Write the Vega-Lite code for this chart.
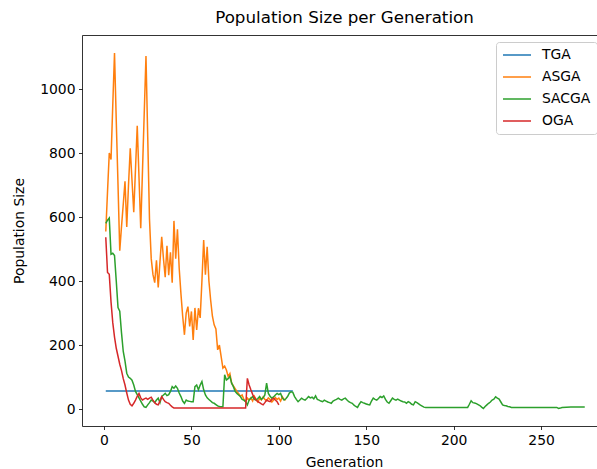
{
  "$schema": "https://vega.github.io/schema/vega-lite/v6.json",
  "width": 515,
  "height": 391,
  "autosize": {"type": "none"},
  "padding": {"left": 82, "top": 35, "right": 0, "bottom": 43},
  "title": {
    "text": "Population Size per Generation",
    "fontSize": 16.7,
    "fontWeight": "normal",
    "color": "#000",
    "anchor": "middle",
    "dx": 5,
    "offset": 8
  },
  "config": {
    "font": "DejaVu Sans",
    "view": {"stroke": null},
    "axis": {
      "domainColor": "#000",
      "domainWidth": 0.8,
      "tickColor": "#000",
      "tickWidth": 0.8,
      "tickSize": 3.5,
      "labelPadding": 3.5,
      "labelFontSize": 13.9,
      "labelColor": "#000",
      "titleFontSize": 13.9,
      "titleFontWeight": "normal",
      "titleColor": "#000",
      "grid": false
    }
  },
  "datasets": {
    "pop": [
      {"generation": 1, "series": "TGA", "size": 56},
      {"generation": 108, "series": "TGA", "size": 56},

      {"generation": 1, "series": "ASGA", "size": 555},
      {"generation": 2, "series": "ASGA", "size": 680},
      {"generation": 3, "series": "ASGA", "size": 800},
      {"generation": 4, "series": "ASGA", "size": 780},
      {"generation": 5, "series": "ASGA", "size": 950},
      {"generation": 6, "series": "ASGA", "size": 1113},
      {"generation": 7, "series": "ASGA", "size": 900},
      {"generation": 8, "series": "ASGA", "size": 700},
      {"generation": 9, "series": "ASGA", "size": 495},
      {"generation": 10, "series": "ASGA", "size": 570},
      {"generation": 11, "series": "ASGA", "size": 640},
      {"generation": 12, "series": "ASGA", "size": 712},
      {"generation": 13, "series": "ASGA", "size": 569},
      {"generation": 14, "series": "ASGA", "size": 700},
      {"generation": 15, "series": "ASGA", "size": 815},
      {"generation": 16, "series": "ASGA", "size": 715},
      {"generation": 17, "series": "ASGA", "size": 615},
      {"generation": 18, "series": "ASGA", "size": 750},
      {"generation": 19, "series": "ASGA", "size": 885},
      {"generation": 20, "series": "ASGA", "size": 725},
      {"generation": 21, "series": "ASGA", "size": 565},
      {"generation": 22, "series": "ASGA", "size": 745},
      {"generation": 23, "series": "ASGA", "size": 925},
      {"generation": 24, "series": "ASGA", "size": 1103},
      {"generation": 25, "series": "ASGA", "size": 850},
      {"generation": 26, "series": "ASGA", "size": 595},
      {"generation": 27, "series": "ASGA", "size": 470},
      {"generation": 28, "series": "ASGA", "size": 420},
      {"generation": 29, "series": "ASGA", "size": 395},
      {"generation": 30, "series": "ASGA", "size": 465},
      {"generation": 31, "series": "ASGA", "size": 380},
      {"generation": 32, "series": "ASGA", "size": 460},
      {"generation": 33, "series": "ASGA", "size": 538},
      {"generation": 34, "series": "ASGA", "size": 470},
      {"generation": 35, "series": "ASGA", "size": 412},
      {"generation": 36, "series": "ASGA", "size": 510},
      {"generation": 37, "series": "ASGA", "size": 418},
      {"generation": 38, "series": "ASGA", "size": 490},
      {"generation": 39, "series": "ASGA", "size": 395},
      {"generation": 40, "series": "ASGA", "size": 588},
      {"generation": 41, "series": "ASGA", "size": 470},
      {"generation": 42, "series": "ASGA", "size": 562},
      {"generation": 43, "series": "ASGA", "size": 440},
      {"generation": 44, "series": "ASGA", "size": 360},
      {"generation": 45, "series": "ASGA", "size": 290},
      {"generation": 46, "series": "ASGA", "size": 232},
      {"generation": 47, "series": "ASGA", "size": 300},
      {"generation": 48, "series": "ASGA", "size": 320},
      {"generation": 49, "series": "ASGA", "size": 258},
      {"generation": 50, "series": "ASGA", "size": 305},
      {"generation": 51, "series": "ASGA", "size": 216},
      {"generation": 52, "series": "ASGA", "size": 316},
      {"generation": 53, "series": "ASGA", "size": 247},
      {"generation": 54, "series": "ASGA", "size": 315},
      {"generation": 55, "series": "ASGA", "size": 285},
      {"generation": 56, "series": "ASGA", "size": 400},
      {"generation": 57, "series": "ASGA", "size": 528},
      {"generation": 58, "series": "ASGA", "size": 420},
      {"generation": 59, "series": "ASGA", "size": 507},
      {"generation": 60, "series": "ASGA", "size": 400},
      {"generation": 61, "series": "ASGA", "size": 340},
      {"generation": 62, "series": "ASGA", "size": 290},
      {"generation": 63, "series": "ASGA", "size": 263},
      {"generation": 64, "series": "ASGA", "size": 250},
      {"generation": 65, "series": "ASGA", "size": 185},
      {"generation": 66, "series": "ASGA", "size": 200},
      {"generation": 67, "series": "ASGA", "size": 164},
      {"generation": 68, "series": "ASGA", "size": 128},
      {"generation": 69, "series": "ASGA", "size": 134},
      {"generation": 70, "series": "ASGA", "size": 122},
      {"generation": 71, "series": "ASGA", "size": 102},
      {"generation": 72, "series": "ASGA", "size": 111},
      {"generation": 73, "series": "ASGA", "size": 81},
      {"generation": 74, "series": "ASGA", "size": 72},
      {"generation": 75, "series": "ASGA", "size": 64},
      {"generation": 76, "series": "ASGA", "size": 55},
      {"generation": 77, "series": "ASGA", "size": 48},
      {"generation": 78, "series": "ASGA", "size": 40},
      {"generation": 79, "series": "ASGA", "size": 44},
      {"generation": 80, "series": "ASGA", "size": 30},
      {"generation": 81, "series": "ASGA", "size": 23},
      {"generation": 82, "series": "ASGA", "size": 34},
      {"generation": 83, "series": "ASGA", "size": 28},
      {"generation": 84, "series": "ASGA", "size": 35},
      {"generation": 85, "series": "ASGA", "size": 25},
      {"generation": 86, "series": "ASGA", "size": 40},
      {"generation": 87, "series": "ASGA", "size": 30},
      {"generation": 88, "series": "ASGA", "size": 22},
      {"generation": 89, "series": "ASGA", "size": 34},
      {"generation": 90, "series": "ASGA", "size": 28},
      {"generation": 91, "series": "ASGA", "size": 38},
      {"generation": 92, "series": "ASGA", "size": 30},
      {"generation": 93, "series": "ASGA", "size": 26},
      {"generation": 94, "series": "ASGA", "size": 35},
      {"generation": 95, "series": "ASGA", "size": 30},
      {"generation": 96, "series": "ASGA", "size": 22},
      {"generation": 97, "series": "ASGA", "size": 28},
      {"generation": 98, "series": "ASGA", "size": 36},
      {"generation": 99, "series": "ASGA", "size": 30},
      {"generation": 100, "series": "ASGA", "size": 34},
      {"generation": 101, "series": "ASGA", "size": 25},
      {"generation": 102, "series": "ASGA", "size": 38},
      {"generation": 103, "series": "ASGA", "size": 30},
      {"generation": 104, "series": "ASGA", "size": 28},

      {"generation": 1, "series": "SACGA", "size": 580},
      {"generation": 2, "series": "SACGA", "size": 590},
      {"generation": 3, "series": "SACGA", "size": 597},
      {"generation": 4, "series": "SACGA", "size": 484},
      {"generation": 5, "series": "SACGA", "size": 487},
      {"generation": 6, "series": "SACGA", "size": 480},
      {"generation": 7, "series": "SACGA", "size": 400},
      {"generation": 8, "series": "SACGA", "size": 317},
      {"generation": 9, "series": "SACGA", "size": 306},
      {"generation": 10, "series": "SACGA", "size": 238},
      {"generation": 11, "series": "SACGA", "size": 180},
      {"generation": 12, "series": "SACGA", "size": 150},
      {"generation": 13, "series": "SACGA", "size": 112},
      {"generation": 14, "series": "SACGA", "size": 100},
      {"generation": 15, "series": "SACGA", "size": 96},
      {"generation": 16, "series": "SACGA", "size": 90},
      {"generation": 17, "series": "SACGA", "size": 75},
      {"generation": 18, "series": "SACGA", "size": 55},
      {"generation": 19, "series": "SACGA", "size": 45},
      {"generation": 20, "series": "SACGA", "size": 35},
      {"generation": 21, "series": "SACGA", "size": 25},
      {"generation": 22, "series": "SACGA", "size": 15},
      {"generation": 23, "series": "SACGA", "size": 7},
      {"generation": 24, "series": "SACGA", "size": 5},
      {"generation": 25, "series": "SACGA", "size": 13},
      {"generation": 26, "series": "SACGA", "size": 20},
      {"generation": 27, "series": "SACGA", "size": 28},
      {"generation": 28, "series": "SACGA", "size": 25},
      {"generation": 29, "series": "SACGA", "size": 20},
      {"generation": 30, "series": "SACGA", "size": 28},
      {"generation": 31, "series": "SACGA", "size": 34},
      {"generation": 32, "series": "SACGA", "size": 20},
      {"generation": 33, "series": "SACGA", "size": 39},
      {"generation": 34, "series": "SACGA", "size": 44},
      {"generation": 35, "series": "SACGA", "size": 49},
      {"generation": 36, "series": "SACGA", "size": 42},
      {"generation": 37, "series": "SACGA", "size": 45},
      {"generation": 38, "series": "SACGA", "size": 55},
      {"generation": 39, "series": "SACGA", "size": 70},
      {"generation": 40, "series": "SACGA", "size": 65},
      {"generation": 41, "series": "SACGA", "size": 72},
      {"generation": 42, "series": "SACGA", "size": 65},
      {"generation": 43, "series": "SACGA", "size": 50},
      {"generation": 44, "series": "SACGA", "size": 39},
      {"generation": 45, "series": "SACGA", "size": 25},
      {"generation": 46, "series": "SACGA", "size": 18},
      {"generation": 47, "series": "SACGA", "size": 28},
      {"generation": 48, "series": "SACGA", "size": 25},
      {"generation": 49, "series": "SACGA", "size": 24},
      {"generation": 50, "series": "SACGA", "size": 23},
      {"generation": 51, "series": "SACGA", "size": 23},
      {"generation": 52, "series": "SACGA", "size": 70},
      {"generation": 53, "series": "SACGA", "size": 75},
      {"generation": 54, "series": "SACGA", "size": 60},
      {"generation": 55, "series": "SACGA", "size": 75},
      {"generation": 56, "series": "SACGA", "size": 86},
      {"generation": 57, "series": "SACGA", "size": 60},
      {"generation": 58, "series": "SACGA", "size": 44},
      {"generation": 59, "series": "SACGA", "size": 35},
      {"generation": 60, "series": "SACGA", "size": 30},
      {"generation": 61, "series": "SACGA", "size": 25},
      {"generation": 62, "series": "SACGA", "size": 20},
      {"generation": 63, "series": "SACGA", "size": 18},
      {"generation": 64, "series": "SACGA", "size": 14},
      {"generation": 65, "series": "SACGA", "size": 10},
      {"generation": 66, "series": "SACGA", "size": 8},
      {"generation": 67, "series": "SACGA", "size": 7},
      {"generation": 68, "series": "SACGA", "size": 7},
      {"generation": 69, "series": "SACGA", "size": 107},
      {"generation": 70, "series": "SACGA", "size": 91},
      {"generation": 71, "series": "SACGA", "size": 95},
      {"generation": 72, "series": "SACGA", "size": 102},
      {"generation": 73, "series": "SACGA", "size": 81},
      {"generation": 74, "series": "SACGA", "size": 70},
      {"generation": 75, "series": "SACGA", "size": 55},
      {"generation": 76, "series": "SACGA", "size": 49},
      {"generation": 77, "series": "SACGA", "size": 44},
      {"generation": 78, "series": "SACGA", "size": 39},
      {"generation": 79, "series": "SACGA", "size": 30},
      {"generation": 80, "series": "SACGA", "size": 28},
      {"generation": 81, "series": "SACGA", "size": 23},
      {"generation": 82, "series": "SACGA", "size": 13},
      {"generation": 83, "series": "SACGA", "size": 28},
      {"generation": 84, "series": "SACGA", "size": 34},
      {"generation": 85, "series": "SACGA", "size": 39},
      {"generation": 86, "series": "SACGA", "size": 30},
      {"generation": 87, "series": "SACGA", "size": 28},
      {"generation": 88, "series": "SACGA", "size": 33},
      {"generation": 89, "series": "SACGA", "size": 39},
      {"generation": 90, "series": "SACGA", "size": 30},
      {"generation": 91, "series": "SACGA", "size": 35},
      {"generation": 92, "series": "SACGA", "size": 44},
      {"generation": 93, "series": "SACGA", "size": 81},
      {"generation": 94, "series": "SACGA", "size": 49},
      {"generation": 95, "series": "SACGA", "size": 40},
      {"generation": 96, "series": "SACGA", "size": 34},
      {"generation": 97, "series": "SACGA", "size": 38},
      {"generation": 98, "series": "SACGA", "size": 44},
      {"generation": 99, "series": "SACGA", "size": 49},
      {"generation": 100, "series": "SACGA", "size": 45},
      {"generation": 101, "series": "SACGA", "size": 49},
      {"generation": 102, "series": "SACGA", "size": 35},
      {"generation": 103, "series": "SACGA", "size": 28},
      {"generation": 104, "series": "SACGA", "size": 32},
      {"generation": 105, "series": "SACGA", "size": 39},
      {"generation": 106, "series": "SACGA", "size": 50},
      {"generation": 107, "series": "SACGA", "size": 54},
      {"generation": 108, "series": "SACGA", "size": 52},
      {"generation": 109, "series": "SACGA", "size": 39},
      {"generation": 110, "series": "SACGA", "size": 30},
      {"generation": 111, "series": "SACGA", "size": 23},
      {"generation": 112, "series": "SACGA", "size": 28},
      {"generation": 113, "series": "SACGA", "size": 34},
      {"generation": 114, "series": "SACGA", "size": 30},
      {"generation": 115, "series": "SACGA", "size": 28},
      {"generation": 116, "series": "SACGA", "size": 33},
      {"generation": 117, "series": "SACGA", "size": 39},
      {"generation": 118, "series": "SACGA", "size": 35},
      {"generation": 119, "series": "SACGA", "size": 37},
      {"generation": 120, "series": "SACGA", "size": 32},
      {"generation": 121, "series": "SACGA", "size": 41},
      {"generation": 122, "series": "SACGA", "size": 30},
      {"generation": 123, "series": "SACGA", "size": 28},
      {"generation": 124, "series": "SACGA", "size": 25},
      {"generation": 125, "series": "SACGA", "size": 23},
      {"generation": 126, "series": "SACGA", "size": 28},
      {"generation": 127, "series": "SACGA", "size": 25},
      {"generation": 128, "series": "SACGA", "size": 22},
      {"generation": 129, "series": "SACGA", "size": 20},
      {"generation": 130, "series": "SACGA", "size": 18},
      {"generation": 131, "series": "SACGA", "size": 25},
      {"generation": 132, "series": "SACGA", "size": 28},
      {"generation": 133, "series": "SACGA", "size": 30},
      {"generation": 134, "series": "SACGA", "size": 34},
      {"generation": 135, "series": "SACGA", "size": 30},
      {"generation": 136, "series": "SACGA", "size": 28},
      {"generation": 137, "series": "SACGA", "size": 32},
      {"generation": 138, "series": "SACGA", "size": 34},
      {"generation": 139, "series": "SACGA", "size": 28},
      {"generation": 140, "series": "SACGA", "size": 23},
      {"generation": 141, "series": "SACGA", "size": 20},
      {"generation": 142, "series": "SACGA", "size": 18},
      {"generation": 143, "series": "SACGA", "size": 12},
      {"generation": 144, "series": "SACGA", "size": 8},
      {"generation": 145, "series": "SACGA", "size": 5},
      {"generation": 146, "series": "SACGA", "size": 15},
      {"generation": 147, "series": "SACGA", "size": 23},
      {"generation": 148, "series": "SACGA", "size": 20},
      {"generation": 149, "series": "SACGA", "size": 18},
      {"generation": 150, "series": "SACGA", "size": 16},
      {"generation": 151, "series": "SACGA", "size": 14},
      {"generation": 152, "series": "SACGA", "size": 13},
      {"generation": 153, "series": "SACGA", "size": 25},
      {"generation": 154, "series": "SACGA", "size": 34},
      {"generation": 155, "series": "SACGA", "size": 30},
      {"generation": 156, "series": "SACGA", "size": 28},
      {"generation": 157, "series": "SACGA", "size": 33},
      {"generation": 158, "series": "SACGA", "size": 39},
      {"generation": 159, "series": "SACGA", "size": 36},
      {"generation": 160, "series": "SACGA", "size": 41},
      {"generation": 161, "series": "SACGA", "size": 30},
      {"generation": 162, "series": "SACGA", "size": 22},
      {"generation": 163, "series": "SACGA", "size": 18},
      {"generation": 164, "series": "SACGA", "size": 26},
      {"generation": 165, "series": "SACGA", "size": 34},
      {"generation": 166, "series": "SACGA", "size": 30},
      {"generation": 167, "series": "SACGA", "size": 28},
      {"generation": 168, "series": "SACGA", "size": 31},
      {"generation": 169, "series": "SACGA", "size": 28},
      {"generation": 170, "series": "SACGA", "size": 25},
      {"generation": 171, "series": "SACGA", "size": 23},
      {"generation": 172, "series": "SACGA", "size": 22},
      {"generation": 173, "series": "SACGA", "size": 18},
      {"generation": 174, "series": "SACGA", "size": 23},
      {"generation": 175, "series": "SACGA", "size": 20},
      {"generation": 176, "series": "SACGA", "size": 15},
      {"generation": 177, "series": "SACGA", "size": 13},
      {"generation": 178, "series": "SACGA", "size": 23},
      {"generation": 179, "series": "SACGA", "size": 20},
      {"generation": 180, "series": "SACGA", "size": 16},
      {"generation": 181, "series": "SACGA", "size": 12},
      {"generation": 182, "series": "SACGA", "size": 9},
      {"generation": 183, "series": "SACGA", "size": 6},
      {"generation": 184, "series": "SACGA", "size": 5},
      {"generation": 208, "series": "SACGA", "size": 5},
      {"generation": 209, "series": "SACGA", "size": 15},
      {"generation": 210, "series": "SACGA", "size": 26},
      {"generation": 211, "series": "SACGA", "size": 20},
      {"generation": 212, "series": "SACGA", "size": 19},
      {"generation": 213, "series": "SACGA", "size": 17},
      {"generation": 214, "series": "SACGA", "size": 14},
      {"generation": 215, "series": "SACGA", "size": 11},
      {"generation": 216, "series": "SACGA", "size": 6},
      {"generation": 217, "series": "SACGA", "size": 2},
      {"generation": 218, "series": "SACGA", "size": 8},
      {"generation": 219, "series": "SACGA", "size": 13},
      {"generation": 220, "series": "SACGA", "size": 18},
      {"generation": 221, "series": "SACGA", "size": 22},
      {"generation": 222, "series": "SACGA", "size": 28},
      {"generation": 223, "series": "SACGA", "size": 31},
      {"generation": 224, "series": "SACGA", "size": 38},
      {"generation": 225, "series": "SACGA", "size": 34},
      {"generation": 226, "series": "SACGA", "size": 31},
      {"generation": 227, "series": "SACGA", "size": 22},
      {"generation": 228, "series": "SACGA", "size": 13},
      {"generation": 229, "series": "SACGA", "size": 11},
      {"generation": 230, "series": "SACGA", "size": 10},
      {"generation": 231, "series": "SACGA", "size": 8},
      {"generation": 232, "series": "SACGA", "size": 7},
      {"generation": 233, "series": "SACGA", "size": 5},
      {"generation": 259, "series": "SACGA", "size": 5},
      {"generation": 260, "series": "SACGA", "size": 2},
      {"generation": 261, "series": "SACGA", "size": 3},
      {"generation": 262, "series": "SACGA", "size": 5},
      {"generation": 267, "series": "SACGA", "size": 6},
      {"generation": 275, "series": "SACGA", "size": 6},

      {"generation": 1, "series": "OGA", "size": 537},
      {"generation": 2, "series": "OGA", "size": 427},
      {"generation": 3, "series": "OGA", "size": 421},
      {"generation": 4, "series": "OGA", "size": 335},
      {"generation": 5, "series": "OGA", "size": 270},
      {"generation": 6, "series": "OGA", "size": 225},
      {"generation": 7, "series": "OGA", "size": 190},
      {"generation": 8, "series": "OGA", "size": 165},
      {"generation": 9, "series": "OGA", "size": 140},
      {"generation": 10, "series": "OGA", "size": 120},
      {"generation": 11, "series": "OGA", "size": 95},
      {"generation": 12, "series": "OGA", "size": 75},
      {"generation": 13, "series": "OGA", "size": 50},
      {"generation": 14, "series": "OGA", "size": 28},
      {"generation": 15, "series": "OGA", "size": 15},
      {"generation": 16, "series": "OGA", "size": 10},
      {"generation": 17, "series": "OGA", "size": 18},
      {"generation": 18, "series": "OGA", "size": 28},
      {"generation": 19, "series": "OGA", "size": 40},
      {"generation": 20, "series": "OGA", "size": 49},
      {"generation": 21, "series": "OGA", "size": 35},
      {"generation": 22, "series": "OGA", "size": 28},
      {"generation": 23, "series": "OGA", "size": 32},
      {"generation": 24, "series": "OGA", "size": 34},
      {"generation": 25, "series": "OGA", "size": 30},
      {"generation": 26, "series": "OGA", "size": 34},
      {"generation": 27, "series": "OGA", "size": 37},
      {"generation": 28, "series": "OGA", "size": 28},
      {"generation": 29, "series": "OGA", "size": 20},
      {"generation": 30, "series": "OGA", "size": 15},
      {"generation": 31, "series": "OGA", "size": 13},
      {"generation": 32, "series": "OGA", "size": 25},
      {"generation": 33, "series": "OGA", "size": 39},
      {"generation": 34, "series": "OGA", "size": 30},
      {"generation": 35, "series": "OGA", "size": 23},
      {"generation": 36, "series": "OGA", "size": 20},
      {"generation": 37, "series": "OGA", "size": 18},
      {"generation": 38, "series": "OGA", "size": 12},
      {"generation": 39, "series": "OGA", "size": 7},
      {"generation": 40, "series": "OGA", "size": 3},
      {"generation": 81, "series": "OGA", "size": 3},
      {"generation": 82, "series": "OGA", "size": 96},
      {"generation": 83, "series": "OGA", "size": 75},
      {"generation": 84, "series": "OGA", "size": 60},
      {"generation": 85, "series": "OGA", "size": 46},
      {"generation": 86, "series": "OGA", "size": 36},
      {"generation": 87, "series": "OGA", "size": 28},
      {"generation": 88, "series": "OGA", "size": 23},
      {"generation": 89, "series": "OGA", "size": 20},
      {"generation": 90, "series": "OGA", "size": 16},
      {"generation": 91, "series": "OGA", "size": 13},
      {"generation": 92, "series": "OGA", "size": 20},
      {"generation": 93, "series": "OGA", "size": 28},
      {"generation": 94, "series": "OGA", "size": 25},
      {"generation": 95, "series": "OGA", "size": 23},
      {"generation": 96, "series": "OGA", "size": 30},
      {"generation": 97, "series": "OGA", "size": 34},
      {"generation": 98, "series": "OGA", "size": 28},
      {"generation": 99, "series": "OGA", "size": 23},
      {"generation": 100, "series": "OGA", "size": 13}
    ]
  },
  "data": {"name": "pop"},
  "encoding": {
    "y": {
      "field": "size",
      "type": "quantitative",
      "scale": {"domain": [-53, 1169], "nice": false, "zero": false},
      "axis": {
        "values": [0, 200, 400, 600, 800, 1000],
        "format": "d",
        "title": "Population Size",
        "titlePadding": 13
      }
    },
    "color": {
      "field": "series",
      "type": "nominal",
      "scale": {
        "domain": ["TGA", "ASGA", "SACGA", "OGA"],
        "range": ["#1f77b4", "#ff7f0e", "#2ca02c", "#d62728"]
      },
      "legend": {
        "title": null,
        "orient": "none",
        "legendX": 414,
        "legendY": 7,
        "symbolType": "stroke",
        "symbolSize": 784,
        "symbolStrokeWidth": 1.5,
        "clipHeight": 14,
        "labelFontSize": 13.9,
        "labelColor": "#000",
        "labelOffset": 10,
        "rowPadding": 8,
        "padding": 6,
        "strokeColor": "#cccccc",
        "fillColor": "rgba(255,255,255,0.8)",
        "cornerRadius": 3
      }
    }
  },
  "layer": [
    {
      "transform": [{"filter": "datum.series === 'TGA'"}],
      "mark": {"type": "line", "strokeWidth": 1.5},
      "encoding": {
        "x": {
          "field": "generation",
          "type": "quantitative",
          "scale": {"domain": [-12.6, 282], "nice": false, "zero": false},
          "axis": {"orient": "top", "labels": false, "ticks": false, "title": null}
        }
      }
    },
    {
      "transform": [{"filter": "datum.series !== 'TGA'"}],
      "mark": {"type": "line", "strokeWidth": 1.5},
      "encoding": {
        "x": {
          "field": "generation",
          "type": "quantitative",
          "scale": {"domain": [-12.6, 282], "nice": false, "zero": false},
          "axis": {
            "orient": "bottom",
            "values": [0, 50, 100, 150, 200, 250],
            "title": "Generation",
            "titleX": 262,
            "titlePadding": 9
          }
        }
      }
    }
  ],
  "resolve": {"axis": {"x": "independent"}}
}
